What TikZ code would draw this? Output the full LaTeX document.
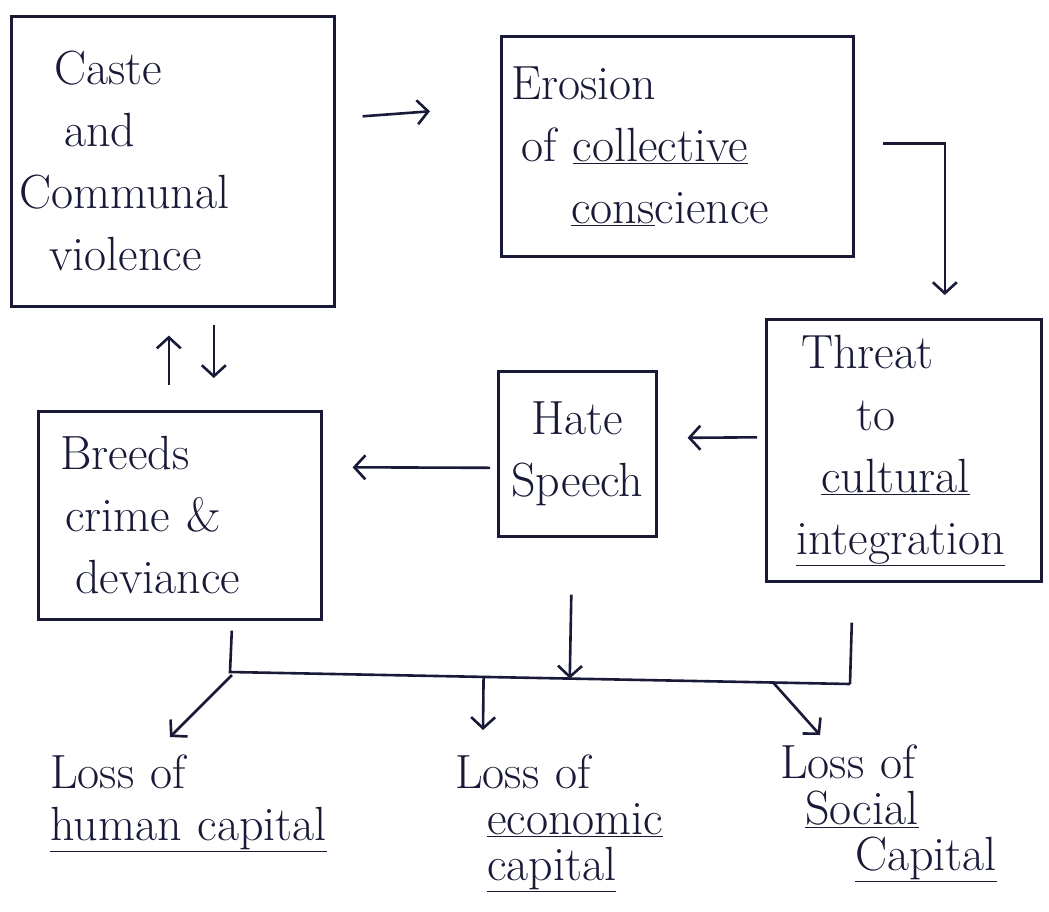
\documentclass[tikz,border=0pt]{standalone}
\usepackage{fontspec}
\usetikzlibrary{arrows.meta,calc}
\definecolor{ink}{RGB}{24,26,56}
\newcommand\boxfont{\fontsize{48}{62}\selectfont}
\newcommand\lossfont{\fontsize{48}{46}\selectfont}
\begin{document}
\begin{tikzpicture}[x=1pt,y=-1pt,
  >={Straight Barb[length=11pt,width=24pt]},
  box/.style={draw=ink, line width=2.6pt, text=ink, font=\boxfont,
              inner ysep=0pt, anchor=north west},
  loss/.style={text=ink, font=\lossfont, inner sep=0pt, align=left,
               anchor=north west, text width=300pt},
  link/.style={draw=ink, line width=2.6pt}]
\useasboundingbox (0,0) rectangle (1049,911);
\fill[white] (0,0) rectangle (1049,911);

% the five boxes of the chain
\node[box, align=left, inner xsep=8pt, text width=307pt, minimum height=290pt]
  (caste) at (10,15)
  {\hspace*{35pt}Caste\\\hspace*{45pt}and\\Communal\\\hspace*{30pt}violence};
\node[box, align=left, inner xsep=10pt, text width=332pt, minimum height=220pt]
  (erosion) at (500,35)
  {Erosion\\\hspace*{10pt}of \underline{collective}\\\hspace*{60pt}\underline{cons}cience};
\node[box, align=left, inner xsep=10pt, text width=255pt, minimum height=262pt]
  (threat) at (765,318)
  {\hspace*{25pt}Threat\\\hspace*{80pt}to\\\hspace*{45pt}\underline{cultural}\\\hspace*{20pt}\underline{integration}};
\node[box, align=center, inner xsep=4pt, text width=150pt, minimum height=165pt]
  (hate) at (497,370)
  {Hate\\Speech};
\node[box, align=left, inner xsep=12pt, text width=259pt, minimum height=208pt]
  (breeds) at (37,410)
  {\hspace*{10pt}Breeds\\\hspace*{15pt}crime \&\\\hspace*{25pt}deviance};

% the three losses
\node[loss] (human) at (50,755)
  {Loss of\\[6pt]\underline{human capital}};
\node[loss] (economic) at (455,755)
  {Loss of\\\hspace*{32pt}\underline{economic}\\\hspace*{32pt}\underline{capital}};
\node[loss] (social) at (780,745)
  {Loss of\\\hspace*{25pt}\underline{Social}\\\hspace*{75pt}\underline{Capital}};

% the chain of arrows
\draw[link,->] ($(caste.east)+(27,-45)$) -- ($(erosion.west)+(-70,-35)$);
\draw[link,->] ($(erosion.east)+(28,-3)$) -| ($(threat.north)+(41,-23)$);
\draw[link,->] ($(threat.west)+(-8,-13)$) -- ($(hate.east)+(30,-16)$);
\draw[link,->] ($(hate.west)+(-7,14)$) -- ($(breeds.east)+(30,-48)$);
\draw[link,->] ($(breeds.north)+(-11,-25)$) -- ($(caste.south)+(-4,28)$);
\draw[link,->] ($(caste.south)+(41,17)$) -- ($(breeds.north)+(34,-32)$);

% the common line below the boxes
\coordinate (jL) at (230,672);
\coordinate (jR) at (850,684);
\draw[link] ($(breeds.south)+(52,10)$) -- (jL) -- (jR);
\draw[link,->] ($(hate.south)+(-6,57)$) -- ($(jL)!0.548!(jR)$);
\draw[link] ($(threat.south)+(-52,40)$) -- (jR);

% branches to the losses
\draw[link,->] ($(jL)+(2,3)$) -- ($(human.north west)+(120,-18)$);
\draw[link,->] ($(jL)!0.409!(jR)$) -- ($(economic.north west)+(28,-25)$);
\draw[link,->] ($(jL)!0.876!(jR)$) -- ($(social.north west)+(40,-10)$);
\end{tikzpicture}
\end{document}
